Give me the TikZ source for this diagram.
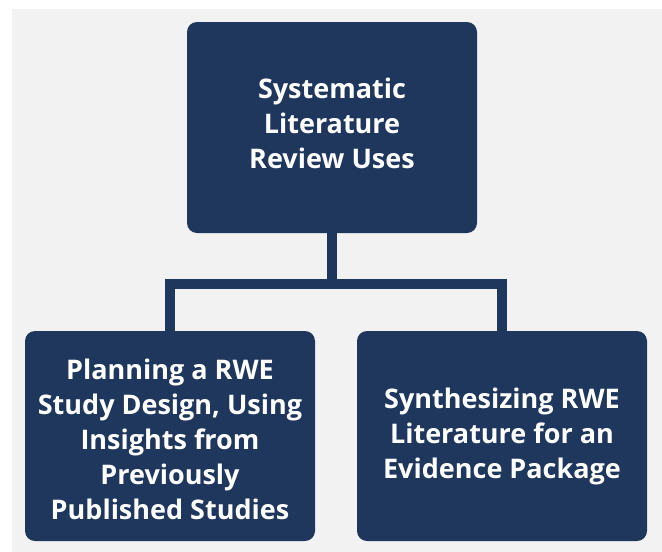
\documentclass[tikz,border=0pt]{standalone}
\usepackage{fontspec}
\setmainfont{Open Sans}
\usetikzlibrary{calc}
\definecolor{navy}{RGB}{31,54,93}
\definecolor{paper}{RGB}{242,242,242}
\tikzset{
 usebox/.style={fill=navy, rounded corners=10pt, minimum width=290pt, inner sep=0pt},
 usetext/.style={text=white, align=center, font=\fontsize{27}{35}\selectfont\bfseries, inner sep=0pt},
 link/.style={draw=navy, line width=10pt}
}

\begin{document}
\begin{tikzpicture}[x=1pt,y=-1pt]
\useasboundingbox (0,0) rectangle (662,552);
\fill[white] (0,0) rectangle (662,552);
\fill[paper] (12,9) rectangle (662,552);
\coordinate (bar) at (0,284);
\node[usebox, minimum height=211pt] (slr) at (332,127.5) {};
\node[usebox, minimum height=210pt] (plan) at (170,436) {};
\node[usebox, minimum height=210pt] (synth) at (502,436) {};
\node[usetext] (slrtext) at ($(slr.center)+(0,-4)$) {Systematic\\Literature\\Review Uses};
\node[usetext] (plantext) at ($(plan.center)+(0,3)$) {Planning a RWE\\Study Design, Using\\Insights from\\Previously\\Published Studies};
\node[usetext] (synthtext) at (synth.center) {Synthesizing RWE\\Literature for an\\Evidence Package};
\draw[link] (slr.south) -- (slr.south |- bar);
\draw[link] (plan.north) -- (plan.north |- bar) -- (synth.north |- bar) -- (synth.north);
\end{tikzpicture}
\end{document}
